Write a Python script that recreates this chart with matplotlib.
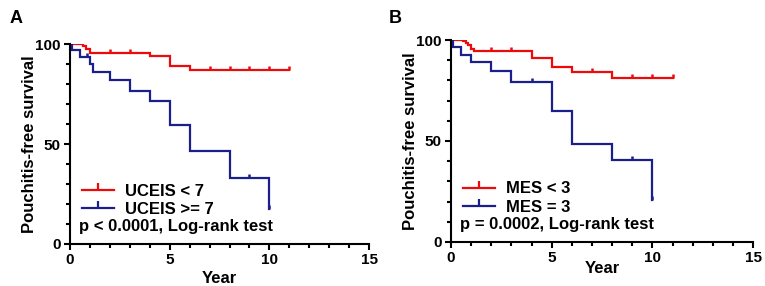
import matplotlib.pyplot as plt
import numpy as np
from matplotlib.ticker import MultipleLocator
from matplotlib.lines import Line2D

plt.rcParams['font.family'] = ['Liberation Sans', 'DejaVu Sans']

# Panel A: UCEIS
a_red_t = [0, 0.65, 0.8, 1.0, 4, 5, 6, 11]
a_red_s = [100, 99, 97.5, 95.7, 93.8, 89, 86.8, 86.8]
a_red_cens = [0.1, 0.35, 2, 3, 7, 8, 9, 10, 11]

a_blue_t = [0, 0.12, 0.5, 1.0, 1.17, 2, 3, 4, 5, 6, 8, 10]
a_blue_s = [100, 97, 93.3, 90, 85.8, 81.8, 76.6, 71.3, 59.3, 46.3, 33.2, 17.5]
a_blue_cens = [0.83, 9, 10]

# Panel B: MES
b_red_t = [0, 0.6, 0.75, 0.87, 1.0, 1.15, 4, 5, 6, 8, 11]
b_red_s = [100, 99.3, 98.3, 97.3, 95.8, 94.6, 90.9, 86.8, 84.3, 81.3, 81.3]
b_red_cens = [0.07, 0.31, 2, 3, 7, 9, 10, 11]

b_blue_t = [0, 0.12, 0.48, 1.0, 2, 3, 5, 6, 8, 10]
b_blue_s = [100, 96.5, 92.6, 89.1, 84.6, 79.1, 64.8, 48.4, 40.5, 21]
b_blue_cens = [4, 9, 10]

red = '#EE0A0A'
blue = '#1A1F8C'


def surv_at(t, s, x):
    idx = np.searchsorted(t, x, side='right') - 1
    return np.array(s)[idx]


def km(ax, t, s, cens, color):
    ax.step(t, s, where='post', color=color, lw=1.6, solid_joinstyle='miter')
    ax.plot(cens, surv_at(t, s, cens), ls='none', marker=2, ms=3,
            mew=1.8, color=color)


def style(ax):
    for sp in ['top', 'right']:
        ax.spines[sp].set_visible(False)
    for sp in ['left', 'bottom']:
        ax.spines[sp].set_linewidth(1.5)
    ax.set_xlim(0, 15)
    ax.set_ylim(0, 100)
    ax.xaxis.set_major_locator(MultipleLocator(5))
    ax.xaxis.set_minor_locator(MultipleLocator(1))
    ax.yaxis.set_major_locator(MultipleLocator(50))
    ax.yaxis.set_minor_locator(MultipleLocator(10))
    ax.tick_params(which='major', length=4.5, width=1.5, labelsize=11, pad=2)
    ax.tick_params(which='minor', length=3, width=1.5)
    for lab in ax.get_xticklabels() + ax.get_yticklabels():
        lab.set_fontweight('bold')
    ax.set_ylabel('Pouchitis-free survival', fontsize=12, fontweight='bold', labelpad=-1)


fig = plt.figure(figsize=(7.65, 2.86), dpi=100)
axA = fig.add_axes([0.0915, 0.147, 0.391, 0.699])
axB = fig.add_axes([0.5895, 0.154, 0.395, 0.706])

km(axA, a_red_t, a_red_s, a_red_cens, red)
km(axA, a_blue_t, a_blue_s, a_blue_cens, blue)
km(axB, b_red_t, b_red_s, b_red_cens, red)
km(axB, b_blue_t, b_blue_s, b_blue_cens, blue)

for ax in (axA, axB):
    style(ax)

axA.set_xlabel('Year', fontsize=12, fontweight='bold', labelpad=3)
axB.set_xlabel('Year', fontsize=12, fontweight='bold', labelpad=-3)

panels = ((axA, ['UCEIS < 7', 'UCEIS >= 7'], 'p < 0.0001, Log-rank test'),
          (axB, ['MES < 3', 'MES = 3'], 'p = 0.0002, Log-rank test'))
for ax, labels, txt in panels:
    handles = [Line2D([0], [0], color=c, lw=1.6, marker=2, ms=5, mew=1.6)
               for c in (red, blue)]
    ax.legend(handles, labels, loc='lower left', bbox_to_anchor=(0.04, 0.135),
              frameon=False, borderpad=0, borderaxespad=0, handlelength=1.9,
              handletextpad=0.7, labelspacing=0.2,
              prop={'size': 12, 'weight': 'bold'})
    ax.text(0.03, 0.085, txt, transform=ax.transAxes, fontsize=12,
            fontweight='bold', va='center', ha='left')

fig.text(0.012, 0.965, 'A', fontsize=13, fontweight='bold', va='top')
fig.text(0.508, 0.965, 'B', fontsize=13, fontweight='bold', va='top')

fig.savefig('out.png', dpi=100)
